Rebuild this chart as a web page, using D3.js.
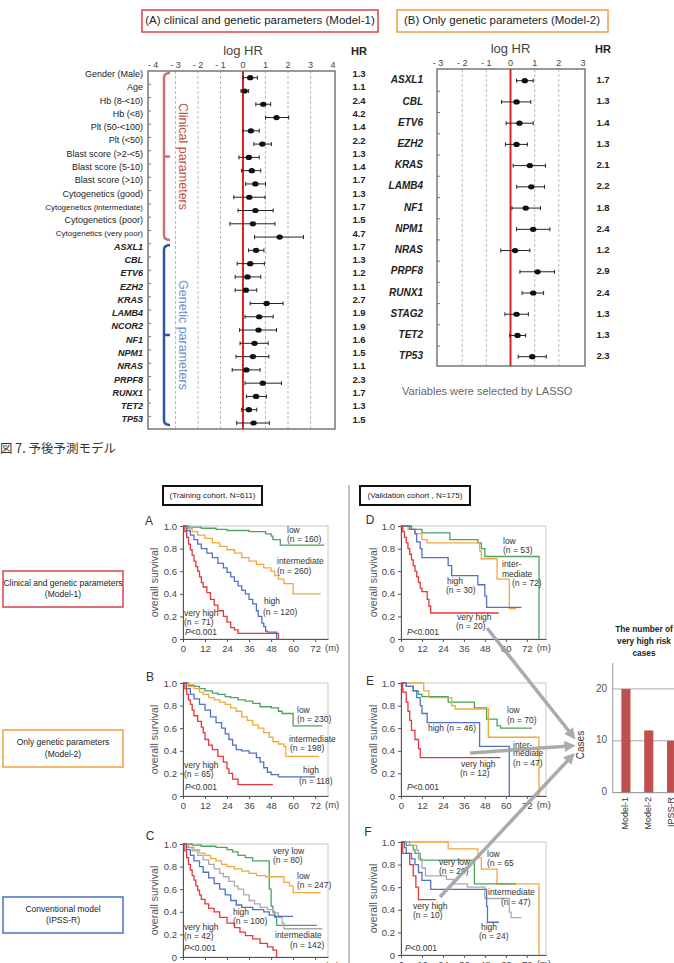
<!DOCTYPE html>
<html>
<head>
<meta charset="utf-8">
<script src="https://cdn.jsdelivr.net/npm/d3@7"></script>
<style>
  body { margin: 0; background: #fff; }
  text { font-family: "Liberation Sans", Arial, sans-serif; }
</style>
</head>
<body>
<svg id="fig"></svg>
<script>
// ---- forest plot data, Model-1 ----
var m1Labels = ["Gender (Male)", "Age", "Hb (8-<10)", "Hb (<8)", "Plt (50-<100)", "Plt (<50)",
  "Blast score (>2-<5)", "Blast score (5-10)", "Blast score (>10)", "Cytogenetics (good)",
  "Cytogenetics (intermediate)", "Cytogenetics (poor)", "Cytogenetics (very poor)",
  "ASXL1", "CBL", "ETV6", "EZH2", "KRAS", "LAMB4", "NCOR2", "NF1", "NPM1", "NRAS", "PRPF8", "RUNX1", "TET2", "TP53"];
var m1Est = [0.32, 0.07, 0.9, 1.49, 0.35, 0.86, 0.26, 0.39, 0.55, 0.28, 0.55, 0.44, 1.63,
  0.58, 0.32, 0.2, 0.13, 1.05, 0.72, 0.69, 0.51, 0.44, 0.15, 0.88, 0.58, 0.26, 0.47];
var m1Lo = [0.0, -0.09, 0.57, 1.0, 0.0, 0.48, -0.18, -0.06, 0.12, -0.41, -0.22, -0.58, 0.51,
  0.25, -0.26, -0.35, -0.35, 0.32, 0.09, -0.15, -0.13, -0.31, -0.48, 0.09, 0.15, -0.06, -0.28];
var m1Hi = [0.64, 0.25, 1.23, 2.03, 0.72, 1.26, 0.72, 0.79, 1.0, 0.98, 1.34, 1.42, 2.69,
  0.93, 0.95, 0.79, 0.61, 1.78, 1.34, 1.49, 1.12, 1.15, 0.76, 1.71, 1.04, 0.61, 1.17];
var m1HR = ["1.3", "1.1", "2.4", "4.2", "1.4", "2.2", "1.3", "1.4", "1.7", "1.3", "1.7", "1.5", "4.7",
  "1.7", "1.3", "1.2", "1.1", "2.7", "1.9", "1.9", "1.6", "1.5", "1.1", "2.3", "1.7", "1.3", "1.5"];
var m1Clinical = 13;

// ---- forest plot data, Model-2 ----
var m2Labels = ["ASXL1", "CBL", "ETV6", "EZH2", "KRAS", "LAMB4", "NF1", "NPM1", "NRAS", "PRPF8", "RUNX1", "STAG2", "TET2", "TP53"];
var m2Est = [0.59, 0.25, 0.37, 0.25, 0.8, 0.86, 0.63, 0.94, 0.19, 1.12, 0.94, 0.25, 0.29, 0.9];
var m2Lo = [0.25, -0.37, -0.18, -0.21, 0.11, 0.26, 0.06, 0.25, -0.4, 0.39, 0.48, -0.23, -0.03, 0.32];
var m2Hi = [0.94, 0.84, 0.94, 0.7, 1.45, 1.41, 1.24, 1.63, 0.8, 1.82, 1.37, 0.74, 0.63, 1.48];
var m2HR = ["1.7", "1.3", "1.4", "1.3", "2.1", "2.2", "1.8", "2.4", "1.2", "2.9", "2.4", "1.3", "1.3", "2.3"];

// ---- Kaplan-Meier curves: [month, survival] ----
var aLow = [[0,1],[3,0.99],[10,0.98],[18,0.97],[24,0.96],[36,0.95],[45,0.93],[48,0.91],[49,0.88],[53,0.83],[77,0.83]];
var aInt = [[0,1],[2,0.98],[5,0.95],[8,0.92],[12,0.89],[16,0.85],[20,0.82],[24,0.79],[28,0.76],[32,0.72],[36,0.69],[40,0.66],[44,0.63],[48,0.6],[50,0.56],[52,0.53],[55,0.49],[60,0.4],[75,0.4]];
var aHigh = [[0,1],[2,0.96],[4,0.92],[6,0.88],[8,0.84],[10,0.8],[13,0.76],[16,0.72],[19,0.67],[22,0.63],[24,0.59],[26,0.55],[28,0.51],[30,0.47],[32,0.43],[34,0.4],[36,0.35],[38,0.31],[40,0.25],[41,0.2],[43,0.14],[44,0.11],[45,0.07],[46,0.06],[51,0]];
var aVHigh = [[0,1],[1,0.95],[2,0.9],[3,0.84],[4,0.79],[5,0.74],[6,0.69],[7,0.64],[8,0.6],[9,0.55],[10,0.5],[11,0.46],[13,0.41],[15,0.35],[17,0.3],[19,0.25],[22,0.2],[24,0.15],[26,0.1],[28,0.08],[30,0.05],[52,0]];

var dLow = [[0,1],[6,0.97],[12,0.94],[28,0.88],[44,0.85],[46,0.8],[48,0.73],[79,0]];
var dInt = [[0,1],[4,0.97],[8,0.93],[12,0.88],[15,0.85],[45,0.78],[46,0.71],[55,0.53],[62,0.27],[66,0.27]];
var dHigh = [[0,1],[5,0.97],[8,0.93],[9,0.86],[11,0.8],[12,0.72],[27,0.65],[29,0.56],[44,0.48],[48,0.38],[49,0.28],[69,0.28]];
var dVHigh = [[0,1],[1,0.95],[2,0.9],[3,0.85],[4,0.8],[5,0.75],[6,0.7],[7,0.65],[8,0.6],[9,0.55],[10,0.5],[11,0.45],[12,0.42],[15,0.35],[16,0.29],[17,0.23],[56,0.23]];

var bLow = [[0,1],[3,0.98],[6,0.97],[9,0.95],[12,0.93],[16,0.91],[19,0.9],[23,0.88],[26,0.87],[30,0.85],[34,0.84],[38,0.82],[42,0.79],[48,0.78],[52,0.75],[54,0.73],[60,0.62],[76,0.62]];
var bInt = [[0,1],[3,0.97],[6,0.95],[9,0.92],[11,0.9],[14,0.87],[17,0.85],[20,0.83],[23,0.81],[26,0.78],[29,0.75],[32,0.7],[35,0.67],[38,0.63],[41,0.6],[44,0.56],[47,0.52],[49,0.48],[52,0.46],[55,0.44],[56,0.35],[74,0.35]];
var bHigh = [[0,1],[2,0.95],[4,0.9],[6,0.86],[9,0.81],[12,0.76],[15,0.7],[18,0.65],[21,0.6],[23,0.55],[25,0.5],[27,0.45],[29,0.41],[32,0.4],[36,0.38],[40,0.34],[42,0.3],[44,0.25],[46,0.21],[48,0.19],[52,0.17],[72,0.17]];
var bVHigh = [[0,1],[1,0.95],[2,0.9],[3,0.85],[4,0.81],[5,0.76],[6,0.71],[8,0.66],[10,0.61],[11,0.56],[12,0.5],[14,0.45],[16,0.41],[19,0.35],[22,0.3],[24,0.24],[25,0.2],[27,0.15],[30,0.1],[49,0.1]];

var eLow = [[0,1],[3,0.97],[7,0.93],[10,0.9],[12,0.88],[27,0.83],[42,0.78],[49,0.68],[55,0.62],[57,0.6],[75,0.6]];
var eInt = [[0,1],[13,0.93],[16,0.87],[29,0.8],[31,0.77],[50,0.52],[79,0]];
var eHigh = [[0,1],[3,0.97],[7,0.93],[9,0.87],[11,0.8],[12,0.73],[15,0.65],[45,0.44],[62,0]];
var eVHigh = [[0,1],[1,0.92],[3,0.83],[4,0.75],[5,0.67],[6,0.58],[8,0.5],[10,0.42],[11,0.34],[57,0.34]];

var cVLow = [[0,1],[5,0.99],[10,0.98],[18,0.97],[24,0.95],[27,0.93],[30,0.9],[34,0.88],[38,0.85],[47,0.6],[48,0.45],[49,0.4],[50,0.35],[51,0.28],[73,0.28]];
var cLow = [[0,1],[3,0.97],[6,0.95],[9,0.92],[12,0.9],[15,0.87],[18,0.85],[21,0.82],[24,0.8],[28,0.78],[32,0.76],[36,0.74],[40,0.72],[45,0.71],[55,0.66],[58,0.63],[60,0.57],[75,0.57]];
var cInt = [[0,1],[2,0.97],[5,0.94],[8,0.9],[11,0.86],[14,0.82],[17,0.78],[20,0.74],[22,0.71],[25,0.67],[28,0.63],[30,0.6],[33,0.55],[36,0.5],[39,0.47],[42,0.44],[46,0.42],[49,0.39],[52,0.35],[54,0.3],[55,0.25],[76,0.25]];
var cHigh = [[0,1],[2,0.95],[4,0.9],[6,0.85],[9,0.8],[11,0.75],[14,0.7],[17,0.65],[20,0.6],[23,0.55],[26,0.5],[29,0.46],[32,0.44],[38,0.42],[44,0.4],[47,0.37],[50,0.36],[60,0.36]];
var cVHigh = [[0,1],[1,0.94],[2,0.88],[3,0.82],[4,0.77],[5,0.72],[6,0.68],[7,0.63],[8,0.59],[9,0.55],[10,0.51],[12,0.47],[14,0.43],[17,0.4],[20,0.35],[24,0.3],[28,0.26],[31,0.22],[34,0.19],[38,0.16],[42,0.12],[46,0.09],[49,0.06],[51,0]];

var fLow = [[0,1],[27,0.94],[44,0.86],[46,0.76],[55,0.63],[79,0]];
var fVLow = [[0,1],[3,0.97],[7,0.93],[8,0.9],[11,0.84],[42,0.63],[66,0.63]];
var fInt = [[0,1],[5,0.97],[9,0.93],[10,0.85],[12,0.77],[14,0.7],[26,0.67],[30,0.63],[38,0.6],[48,0.5],[62,0.38],[63,0.33],[69,0.33]];
var fHigh = [[0,1],[2,0.95],[3,0.9],[6,0.85],[8,0.8],[10,0.73],[12,0.66],[17,0.58],[49,0.43],[49.5,0.29],[56,0.29]];
var fVHigh = [[0,1],[1,0.9],[5,0.8],[7,0.7],[8.5,0.6],[10,0.49],[20,0.49]];

// ---- bar chart ----
var barCats = ["Model-1", "Model-2", "IPSS-R"];
var barVals = [20, 12, 10];

var monthTicks = [0, 12, 24, 36, 48, 60, 72];
var survTicks = [0, 0.2, 0.4, 0.6, 0.8, 1.0];

var col = { green: "#4ba35f", orange: "#f3a83b", blue: "#5071c4", red: "#e5383b", gray: "#aaaaaa" };

var svg = d3.select('#fig').attr('width', 674).attr('height', 963);
svg.append('rect').attr('width', 674).attr('height', 963).attr('fill', '#fff');

// ================= forest plots =================
function forest(o) {
  var g = svg.append('g');
  var x = d3.scaleLinear().domain(o.dom).range(o.xr);
  var y = d3.scaleLinear().domain([0, o.labels.length - 1]).range(o.yr);

  // dashed grid
  g.selectAll('.grid').data(d3.range(o.dom[0] + 1, o.dom[1])).enter().append('line')
    .attr('x1', d => x(d)).attr('x2', d => x(d))
    .attr('y1', o.frame[1]).attr('y2', o.frame[3])
    .attr('stroke', '#bbb').attr('stroke-dasharray', '3,2');
  g.append('rect').attr('x', o.frame[0]).attr('y', o.frame[1])
    .attr('width', o.frame[2] - o.frame[0]).attr('height', o.frame[3] - o.frame[1])
    .attr('fill', 'none').attr('stroke', '#777').attr('stroke-width', 1.5);
  // small ticks on left edge
  g.selectAll('.lt').data(d3.range(o.labels.length - 1)).enter().append('line')
    .attr('x1', o.frame[0]).attr('x2', o.frame[0] + 3)
    .attr('y1', d => (y(d) + y(d + 1)) / 2).attr('y2', d => (y(d) + y(d + 1)) / 2)
    .attr('stroke', '#777');
  g.append('line').attr('x1', x(0)).attr('x2', x(0)).attr('y1', o.frame[1]).attr('y2', o.frame[3])
    .attr('stroke', '#e02424').attr('stroke-width', 2);

  // top tick labels
  g.selectAll('.tl').data(d3.range(o.dom[0], o.dom[1] + 1)).enter().append('text')
    .attr('x', d => x(d)).attr('y', o.frame[1] - 3)
    .attr('text-anchor', 'middle').attr('font-size', 9).attr('fill', '#444')
    .text(d => d < 0 ? '- ' + (-d) : d);
  g.append('text').attr('x', x(0)).attr('y', o.frame[1] - 16).attr('text-anchor', 'middle')
    .attr('font-size', 13).attr('fill', '#444').text('log HR');
  g.append('text').attr('x', o.hrX).attr('y', o.frame[1] - 16).attr('text-anchor', 'middle')
    .attr('font-size', 11).attr('font-weight', 'bold').attr('fill', '#222').text('HR');

  var rows = g.selectAll('.row').data(o.labels).enter().append('g');
  rows.append('line')
    .attr('x1', (d, i) => x(o.lo[i])).attr('x2', (d, i) => x(o.hi[i]))
    .attr('y1', (d, i) => y(i)).attr('y2', (d, i) => y(i))
    .attr('stroke', '#222').attr('stroke-width', 1);
  [o.lo, o.hi].forEach(arr => {
    rows.append('line')
      .attr('x1', (d, i) => x(arr[i])).attr('x2', (d, i) => x(arr[i]))
      .attr('y1', (d, i) => y(i) - 2).attr('y2', (d, i) => y(i) + 2)
      .attr('stroke', '#222');
  });
  rows.append('ellipse')
    .attr('cx', (d, i) => x(o.est[i])).attr('cy', (d, i) => y(i))
    .attr('rx', 3.2).attr('ry', 2.6).attr('fill', '#111');
  rows.append('text')
    .attr('x', o.labelX).attr('y', (d, i) => y(i) + o.labDy)
    .attr('text-anchor', 'end').attr('dominant-baseline', 'middle')
    .attr('font-size', (d, i) => i < o.nPlain ? (d.length > 20 ? 8 : 9) : o.geneSize)
    .attr('font-weight', (d, i) => i < o.nPlain ? 'normal' : 'bold')
    .attr('font-style', (d, i) => i < o.nPlain ? 'normal' : 'italic')
    .attr('fill', '#222')
    .text(d => d);
  rows.append('text')
    .attr('x', o.hrX).attr('y', (d, i) => y(i) + o.labDy)
    .attr('text-anchor', 'middle').attr('dominant-baseline', 'middle')
    .attr('font-size', 9.5).attr('font-weight', 'bold').attr('fill', '#222')
    .text((d, i) => o.hr[i]);
  return y;
}

forest({ labels: m1Labels, est: m1Est, lo: m1Lo, hi: m1Hi, hr: m1HR,
  dom: [-4, 4], xr: [153, 333], yr: [77.7, 423], frame: [148, 71, 335, 429],
  hrX: 359, labelX: 143, labDy: -3, nPlain: m1Clinical, geneSize: 9 });
forest({ labels: m2Labels, est: m2Est, lo: m2Lo, hi: m2Hi, hr: m2HR,
  dom: [-3, 3], xr: [438, 583], yr: [80.7, 356.7], frame: [437, 69, 585, 366],
  hrX: 603, labelX: 423, labDy: 0, nPlain: 0, geneSize: 10 });

// brackets for Model-1
function brace(yTop, yBot, color, label, tcolor) {
  var yMid = (yTop + yBot) / 2;
  svg.append('path')
    .attr('d', 'M170,' + yTop + ' Q164,' + yTop + ' 164,' + (yTop + 5) + ' V' + (yBot - 5) +
      ' Q164,' + yBot + ' 170,' + yBot + ' M164,' + yMid + ' H170')
    .attr('fill', 'none').attr('stroke', color).attr('stroke-width', 2.5);
  svg.append('text').attr('transform', 'translate(182,' + yMid + ') rotate(90)')
    .attr('text-anchor', 'middle').attr('dominant-baseline', 'middle')
    .attr('font-size', 12.5).attr('fill', tcolor).text(label);
}
brace(73, 240, '#d07070', 'Clinical parameters', '#c0504d');
brace(245, 425, '#2a56a8', 'Genetic parameters', '#6b8fd4');

// title boxes
svg.append('rect').attr('x', 142).attr('y', 10).attr('width', 236).attr('height', 22)
  .attr('fill', 'none').attr('stroke', '#d9434a').attr('stroke-width', 1.5);
svg.append('text').attr('x', 260).attr('y', 21).attr('text-anchor', 'middle').attr('dominant-baseline', 'middle')
  .attr('font-size', 11.5).attr('fill', '#222').text('(A)  clinical and genetic parameters (Model-1)');
svg.append('rect').attr('x', 397).attr('y', 10).attr('width', 211).attr('height', 22)
  .attr('fill', 'none').attr('stroke', '#f0a042').attr('stroke-width', 1.5);
svg.append('text').attr('x', 502).attr('y', 21).attr('text-anchor', 'middle').attr('dominant-baseline', 'middle')
  .attr('font-size', 11.5).attr('fill', '#222').text('(B) Only genetic parameters (Model-2)');

svg.append('text').attr('x', 402).attr('y', 392).attr('dominant-baseline', 'middle')
  .attr('font-size', 11).attr('fill', '#666').text('Variables were selected by LASSO');

svg.append('text').attr('x', 0).attr('y', 450).attr('dominant-baseline', 'middle')
  .attr('font-size', 12.5).attr('fill', '#333').style('font-family', '"Noto Sans CJK JP", sans-serif')
  .text('図 7. 予後予測モデル');

// ================= KM section =================
svg.append('line').attr('x1', 349).attr('x2', 349).attr('y1', 485).attr('y2', 963)
  .attr('stroke', '#888').attr('stroke-width', 1);

function box(x, y, w, h, stroke, sw, lines, fs) {
  svg.append('rect').attr('x', x).attr('y', y).attr('width', w).attr('height', h)
    .attr('fill', '#fff').attr('stroke', stroke).attr('stroke-width', sw);
  lines.forEach((t, i) => {
    svg.append('text').attr('x', x + w / 2).attr('y', y + h / 2 + (i - (lines.length - 1) / 2) * (fs + 3))
      .attr('text-anchor', 'middle').attr('dominant-baseline', 'middle')
      .attr('font-size', fs).attr('fill', '#222').text(t);
  });
}
box(163, 486, 99, 19, '#111', 2, ['(Training cohort, N=611)'], 8);
box(360, 486, 110, 19, '#111', 2, ['(Validation cohort , N=175)'], 8);
box(3, 571, 120, 36, '#d9434a', 1.5, ['Clinical and genetic parameters', '(Model-1)'], 8.5);
box(3, 730, 120, 37, '#f0a042', 1.5, ['Only genetic parameters', '(Model-2)'], 8.5);
box(3, 897, 120, 36, '#4a73c0', 1.5, ['Conventional model', '(IPSS-R)'], 8.5);

var line = d3.line().curve(d3.curveStepAfter);

function kmPanel(p) {
  var H = 113;
  var x = d3.scaleLinear().domain([0, p.xmax]).range([p.x0, p.x1]);
  var y = d3.scaleLinear().domain([0, 1]).range([p.top + H, p.top]);
  var g = svg.append('g');
  g.append('rect').attr('x', p.x0).attr('y', p.top).attr('width', p.x1 - p.x0).attr('height', H)
    .attr('fill', 'none').attr('stroke', '#c8c8c8');

  var ya = g.append('g').attr('transform', 'translate(' + p.x0 + ',0)')
    .call(d3.axisLeft(y).tickValues(survTicks).tickSize(3).tickSizeOuter(0)
      .tickFormat(d => d === 0 ? '0' : d3.format('.1f')(d)));
  var xa = g.append('g').attr('transform', 'translate(0,' + (p.top + H) + ')')
    .call(d3.axisBottom(x).tickValues(monthTicks).tickSize(3).tickSizeOuter(0));
  [ya, xa].forEach(a => {
    a.selectAll('text').attr('font-size', 9.5).attr('fill', '#444').style('font-family', '"Liberation Sans", Arial, sans-serif');
    a.selectAll('line, path').attr('stroke', '#555');
  });
  g.append('text').attr('x', x(72) + 17).attr('y', p.top + H + 12).attr('text-anchor', 'middle')
    .attr('font-size', 9.5).attr('fill', '#444').text('(m)');
  g.append('text').attr('transform', 'translate(' + p.ylabX + ',' + (p.top + H / 2) + ') rotate(-90)')
    .attr('text-anchor', 'middle').attr('dominant-baseline', 'middle')
    .attr('font-size', 10.5).attr('fill', '#555').text('overall survival');
  g.append('text').attr('x', p.letter[0]).attr('y', p.letter[1]).attr('text-anchor', 'middle')
    .attr('dominant-baseline', 'middle').attr('font-size', 12).attr('fill', '#333').text(p.id);

  p.series.forEach(s => {
    g.append('path').attr('d', line(s.data.map(d => [x(d[0]), y(d[1])])))
      .attr('fill', 'none').attr('stroke', s.color).attr('stroke-width', 1.3);
  });
  p.labels.forEach(l => {
    g.append('text').attr('x', l[0]).attr('y', l[1]).attr('dominant-baseline', 'middle')
      .attr('font-size', 8.5).attr('fill', '#333').text(l[2]);
  });
  var pv = g.append('text').attr('x', p.pval[0]).attr('y', p.pval[1]).attr('dominant-baseline', 'middle')
    .attr('font-size', 8.5).attr('fill', '#333');
  pv.append('tspan').attr('font-style', 'italic').text('P');
  pv.append('tspan').text('<0.001');
}

var leftX = { x0: 183, x1: 328, xmax: 79, ylabX: 155 };
var rightX = { x0: 401, x1: 546, xmax: 83, ylabX: 374 };

kmPanel(Object.assign({ id: 'A', top: 526, letter: [149, 522], pval: [185, 633],
  series: [{ data: aLow, color: col.green }, { data: aInt, color: col.orange }, { data: aHigh, color: col.blue }, { data: aVHigh, color: col.red }],
  labels: [[287, 531, 'low'], [287, 540, '(n = 160)'], [277, 562, 'intermediate'], [277, 572, '(n = 260)'],
    [264, 602, 'high'], [263, 613, '(n = 120)'], [184, 614, 'very high'], [184, 623, '(n = 71)']] }, leftX));
kmPanel(Object.assign({ id: 'B', top: 683, letter: [150, 678], pval: [185, 788],
  series: [{ data: bLow, color: col.green }, { data: bInt, color: col.orange }, { data: bHigh, color: col.blue }, { data: bVHigh, color: col.red }],
  labels: [[297, 711, 'low'], [297, 720, '(n = 230)'], [289, 740, 'intermediate'], [290, 749, '(n = 198)'],
    [303, 771, 'high'], [299, 782, '(n = 118)'], [184, 766, 'very high'], [184, 775, '(n = 65)']] }, leftX));
kmPanel(Object.assign({ id: 'C', top: 844, letter: [150, 837], pval: [184, 949],
  series: [{ data: cVLow, color: col.green }, { data: cLow, color: col.orange }, { data: cInt, color: col.gray }, { data: cHigh, color: col.blue }, { data: cVHigh, color: col.red }],
  labels: [[273, 852, 'very low'], [273, 861, '(n = 80)'], [297, 877, 'low'], [297, 886, '(n = 247)'],
    [233, 913, 'high'], [233, 922, '(n = 100)'], [184, 928, 'very high'], [184, 937, '(n = 42)'],
    [275, 936, 'intermediate'], [290, 946, '(n = 142)']] }, leftX));

kmPanel(Object.assign({ id: 'D', top: 526, letter: [370, 521], pval: [407, 633],
  series: [{ data: dLow, color: col.green }, { data: dInt, color: col.orange }, { data: dHigh, color: col.blue }, { data: dVHigh, color: col.red }],
  labels: [[503, 542, 'low'], [503, 551, '(n = 53)'], [502, 565, 'inter-'], [502, 575, 'mediate'], [512, 584, '(n = 72)'],
    [447, 582, 'high'], [446, 591, '(n = 30)'], [457, 618, 'very high'], [456, 627, '(n = 20)']] }, rightX));
kmPanel(Object.assign({ id: 'E', top: 683, letter: [370, 682], pval: [407, 788],
  series: [{ data: eLow, color: col.green }, { data: eInt, color: col.orange }, { data: eHigh, color: col.blue }, { data: eVHigh, color: col.red }],
  labels: [[507, 711, 'low'], [507, 721, '(n = 70)'], [428, 729, 'high (n = 46)'], [513, 746, 'inter-'],
    [513, 754, 'mediate'], [513, 764, '(n = 47)'], [461, 765, 'very high'], [460, 774, '(n = 12)']] }, rightX));
kmPanel(Object.assign({ id: 'F', top: 842, letter: [368, 833], pval: [405, 949],
  series: [{ data: fLow, color: col.orange }, { data: fVLow, color: col.green }, { data: fInt, color: col.gray }, { data: fHigh, color: col.blue }, { data: fVHigh, color: col.red }],
  labels: [[487, 855, 'low'], [487, 864, '(n = 65'], [439, 863, 'very low'], [439, 872, '(n = 29)'],
    [488, 893, 'intermediate'], [501, 903, '(n = 47)'], [413, 907, 'very high'], [413, 916, '(n = 10)'],
    [481, 928, 'high'], [479, 937, '(n = 24)']] }, rightX));

// ================= bar chart =================
var bx = d3.scaleBand().domain(barCats).range([614.5, 683]).paddingInner(0.6).paddingOuter(0.3);
var by = d3.scaleLinear().domain([0, 25]).range([792.7, 663]);
[10, 20].forEach(v => {
  svg.append('line').attr('x1', 612.7).attr('x2', 674).attr('y1', by(v)).attr('y2', by(v))
    .attr('stroke', '#aaa');
});
svg.selectAll('.bar').data(barVals).enter().append('rect')
  .attr('x', (d, i) => bx(barCats[i])).attr('width', bx.bandwidth())
  .attr('y', d => by(d)).attr('height', d => by(0) - by(d))
  .attr('fill', '#c0504d');
svg.append('line').attr('x1', 612.7).attr('x2', 612.7).attr('y1', 663).attr('y2', by(0)).attr('stroke', '#999');
svg.append('line').attr('x1', 612.7).attr('x2', 674).attr('y1', by(0)).attr('y2', by(0)).attr('stroke', '#888');
[0, 10, 20].forEach(v => {
  svg.append('text').attr('x', 607).attr('y', by(v)).attr('text-anchor', 'end').attr('dominant-baseline', 'middle')
    .attr('font-size', 10).attr('fill', '#555').text(v);
});
barCats.forEach(c => {
  svg.append('text').attr('transform', 'translate(' + (bx(c) + bx.bandwidth() / 2) + ',797) rotate(-90)')
    .attr('text-anchor', 'end').attr('dominant-baseline', 'middle')
    .attr('font-size', 9).attr('fill', '#333').text(c);
});
svg.append('text').attr('transform', 'translate(581,745) rotate(-90)')
  .attr('text-anchor', 'middle').attr('dominant-baseline', 'middle')
  .attr('font-size', 10).attr('fill', '#333').text('Cases');
['The number of', 'very high risk', 'cases'].forEach((t, i) => {
  svg.append('text').attr('x', 644).attr('y', 629.5 + i * 12).attr('text-anchor', 'middle')
    .attr('dominant-baseline', 'middle').attr('font-size', 8.3).attr('font-weight', 'bold')
    .attr('fill', '#222').text(t);
});

// ================= arrows =================
var defs = svg.append('defs');
defs.append('marker').attr('id', 'arr').attr('viewBox', '0 0 10 10').attr('refX', 5).attr('refY', 5)
  .attr('markerWidth', 3.2).attr('markerHeight', 3.2).attr('orient', 'auto')
  .append('path').attr('d', 'M0,0 L10,5 L0,10 z').attr('fill', '#a3a3a3');
[[487, 628, 572, 735], [470, 753, 570, 746], [440, 897, 571, 757]].forEach(a => {
  svg.append('line').attr('x1', a[0]).attr('y1', a[1]).attr('x2', a[2]).attr('y2', a[3])
    .attr('stroke', '#a3a3a3').attr('stroke-width', 3.5).attr('opacity', 0.9)
    .attr('marker-end', 'url(#arr)');
});
</script>
</body>
</html>
